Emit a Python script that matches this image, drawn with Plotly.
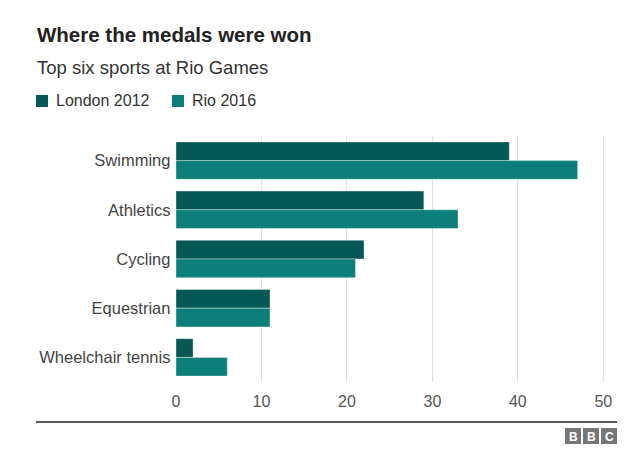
import plotly.graph_objects as go

sports = ["Swimming", "Athletics", "Cycling", "Equestrian", "Wheelchair tennis"]
london_2012 = [39, 29, 22, 11, 2]
rio_2016 = [47, 33, 21, 11, 6]
x_ticks = [0, 10, 20, 30, 40, 50]
series_names = ["London 2012", "Rio 2016"]

FONT = "Liberation Sans, Arial, Helvetica, sans-serif"
c_london = "#065856"
c_rio = "#0c7f7b"

# page has an 8px body margin, so the figure is drawn at (8,8)
OFF = 8
PL, PR, PT, PB = 176, 605, 136, 382  # plot area in window pixels
W, H = 640 - OFF, 456 - OFF
pw, ph = PR - PL, PB - PT


def px(x):
    return (x - PL) / pw


def py(y):
    return (PB - y) / ph


fig = go.Figure()
fig.add_trace(go.Bar(y=sports, x=london_2012, orientation="h", name=series_names[0],
                     marker=dict(color=c_london, line=dict(color="rgba(255,255,255,0.35)", width=1))))
fig.add_trace(go.Bar(y=sports, x=rio_2016, orientation="h", name=series_names[1],
                     marker=dict(color=c_rio, line=dict(color="rgba(255,255,255,0.35)", width=1))))

fig.update_layout(
    width=W, height=H,
    margin=dict(l=PL - OFF, r=W - (PR - OFF), t=PT - OFF, b=H - (PB - OFF)),
    paper_bgcolor="white", plot_bgcolor="white",
    barmode="group", bargap=0.24, bargroupgap=0,
    font=dict(family=FONT, color="#555555", size=16),
    showlegend=False,
    xaxis=dict(range=[0, 50.2], tickvals=x_ticks, showgrid=True, gridcolor="#e3e3e3", gridwidth=1,
               zeroline=False, showline=False, ticks="", ticklabelstandoff=8,
               tickfont=dict(size=16, color="#555555")),
    yaxis=dict(autorange="reversed", ticks="", showline=False, showgrid=False,
               tickfont=dict(size=16.5, color="#444444"), ticksuffix=" "),
)

fig.add_annotation(text="<b>Where the medals were won</b>", xref="paper", yref="paper",
                   x=px(35), y=py(35), xanchor="left", yanchor="middle",
                   showarrow=False, font=dict(family=FONT, size=20.5, color="#222222"))
fig.add_annotation(text="Top six sports at Rio Games", xref="paper", yref="paper",
                   x=px(35), y=py(67), xanchor="left", yanchor="middle",
                   showarrow=False, font=dict(family=FONT, size=18.5, color="#333333"))

# legend (manual)
for xs, name, col in [(36, series_names[0], c_london), (172, series_names[1], c_rio)]:
    fig.add_shape(type="rect", xref="paper", yref="paper",
                  x0=px(xs), x1=px(xs + 12), y0=py(107), y1=py(95),
                  fillcolor=col, line=dict(width=0))
    fig.add_annotation(text=name, xref="paper", yref="paper", x=px(xs + 18), y=py(101),
                       xanchor="left", yanchor="middle", showarrow=False,
                       font=dict(family=FONT, size=16, color="#333333"))

# bottom rule
fig.add_shape(type="line", xref="paper", yref="paper",
              x0=px(36), x1=px(617), y0=py(422), y1=py(422),
              line=dict(color="#222222", width=1.5))

# BBC blocks
for i, letter in enumerate(["B", "B", "C"]):
    x0 = 565 + i * 18
    fig.add_shape(type="rect", xref="paper", yref="paper",
                  x0=px(x0), x1=px(x0 + 16), y0=py(444), y1=py(428),
                  fillcolor="#767676", line=dict(width=0))
    fig.add_annotation(text="<b>" + letter + "</b>", xref="paper", yref="paper",
                       x=px(x0 + 8), y=py(436.5), xanchor="center", yanchor="middle",
                       showarrow=False, font=dict(family=FONT, size=12, color="white"))

fig.write_html("out.html")
